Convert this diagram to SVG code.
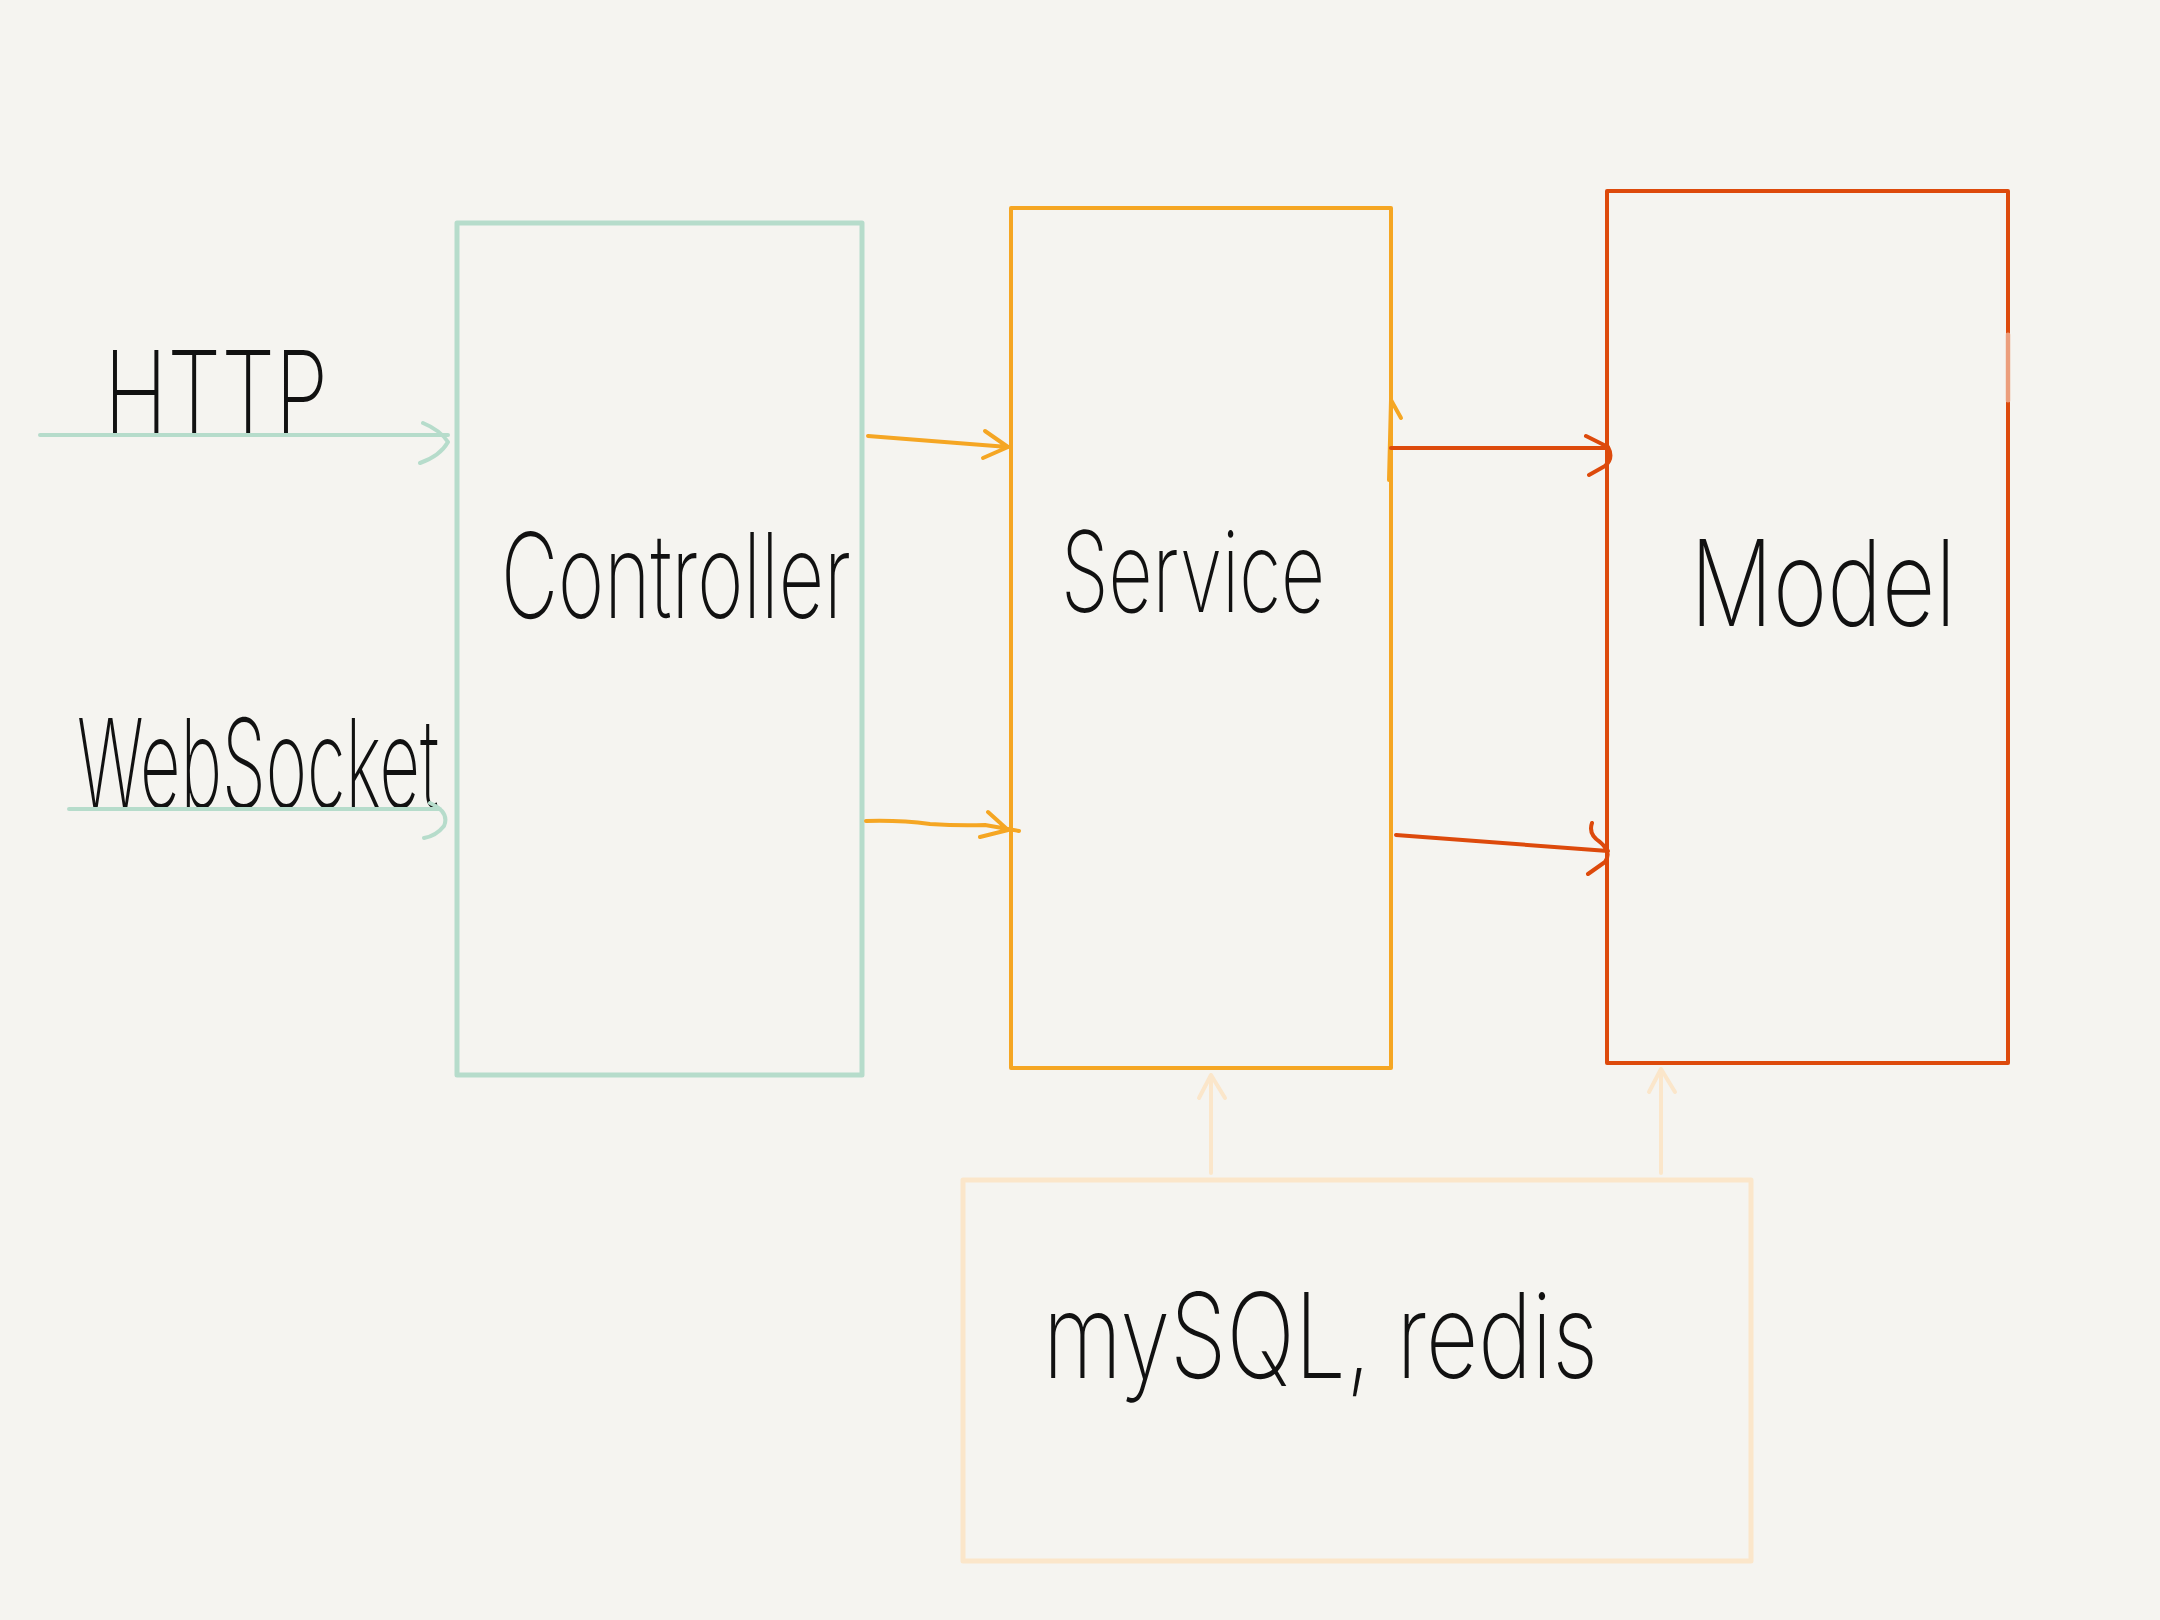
<svg xmlns="http://www.w3.org/2000/svg" width="2160" height="1620" viewBox="0 0 2160 1620">
<style>
.lbl{font-family:"Inter","Lato","Liberation Sans",sans-serif;fill:#111;font-weight:200}
.box{fill:none;stroke-linejoin:round;stroke-linecap:round}
.con{fill:none;stroke-linecap:round;stroke-linejoin:round}
.green{stroke:#b6dccb}
.orange{stroke:#f5a623}
.red{stroke:#dd4a0c}
.pale{stroke:#fbe6ca}
</style>
<rect width="2160" height="1620" fill="#f5f4f0"/>
<g id="controller">
<rect class="box green" x="457" y="223" width="405" height="852" stroke-width="5"/>
<text class="lbl" x="501" y="618" font-size="118" textLength="350" lengthAdjust="spacingAndGlyphs">Controller</text>
</g>
<g id="service">
<rect class="box orange" x="1011" y="208" width="380" height="860" stroke-width="4"/>
<text class="lbl" x="1061" y="612" font-size="112" textLength="264" lengthAdjust="spacingAndGlyphs">Service</text>
</g>
<g id="model">
<rect class="box red" x="1607" y="191" width="401" height="872" stroke-width="4"/>
<path d="M2008 335 L2008 400" stroke="#f2c2ac" stroke-width="5" fill="none" stroke-linecap="round" opacity="0.7"/>
<text class="lbl" x="1690" y="626" font-size="120" textLength="266" lengthAdjust="spacingAndGlyphs">Model</text>
</g>
<g id="storage">
<rect class="box pale" x="963" y="1180" width="788" height="381" stroke-width="5"/>
<text class="lbl" x="1043" y="1378" font-size="118" textLength="555" lengthAdjust="spacingAndGlyphs">mySQL, redis</text>
</g>
<g id="http-label">
<text class="lbl" x="104" y="436" font-size="118" textLength="224" lengthAdjust="spacingAndGlyphs">HTTP</text>
</g>
<g id="websocket-label">
<text class="lbl" x="77" y="808" font-size="124" textLength="362" lengthAdjust="spacingAndGlyphs">WebSocket</text>
</g>
<g id="connectors">
<path class="con green" stroke-width="4" d="M40 435 L448 435 M423 423 Q440 430 448 442 Q440 456 420 463"/>
<path class="con green" stroke-width="4" d="M69 809 L440 809 M430 803 Q450 812 444 826 Q436 836 424 838"/>
<path class="con orange" stroke-width="4" d="M868 436 L1008 447 M985 431 L1008 447 L983 458"/>
<path class="con orange" stroke-width="4" d="M866 821 Q900 820 930 824 Q960 826 985 825 L1019 831 M988 812 L1008 830 L980 837"/>
<path class="con orange" stroke-width="4" d="M1389 480 L1391 400 L1401 418"/>
<path class="con red" stroke-width="4" d="M1391 448 L1608 448 M1586 436 L1608 447 Q1614 458 1605 466 L1589 475"/>
<path class="con red" stroke-width="4" d="M1396 835 L1608 851 M1592 823 Q1588 834 1600 842 Q1612 852 1605 862 L1588 874"/>
<path class="con pale" stroke-width="4" d="M1211 1173 L1211 1075 M1199 1098 L1211 1075 L1225 1098"/>
<path class="con pale" stroke-width="4" d="M1661 1173 L1661 1069 M1649 1092 L1661 1069 L1675 1092"/>
</g>
</svg>
